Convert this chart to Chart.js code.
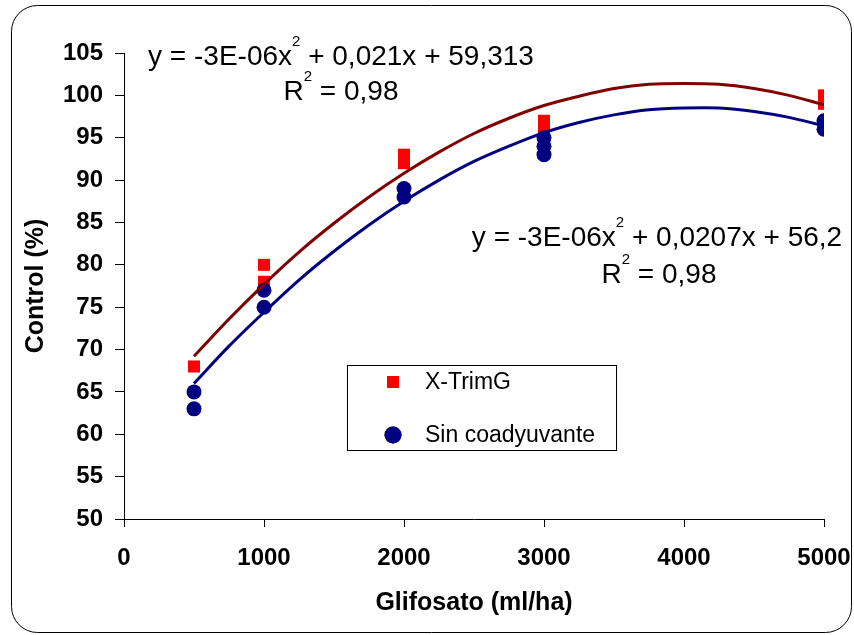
<!DOCTYPE html>
<html>
<head>
<meta charset="utf-8">
<title>Control vs Glifosato</title>
<script src="https://cdn.jsdelivr.net/npm/chart.js@4/dist/chart.umd.min.js"></script>
<style>
  html, body { margin: 0; padding: 0; background: #ffffff; overflow: hidden; }
  #wrap { width: 854px; height: 635px; position: relative; }
</style>
</head>
<body>
<div id="wrap"><canvas id="c" width="854" height="635"></canvas></div>
<script>
// Observed control (%) per glyphosate dose (ml/ha), replicates listed separately
const xtrimDose    = [500, 1000, 1000, 2000, 2000, 3000, 3000, 5000, 5000];
const xtrimControl = [68, 80, 78, 93, 92, 97, 96, 100, 99];

const sinDose      = [500, 500, 1000, 1000, 2000, 2000, 3000, 3000, 3000, 5000, 5000];
const sinControl   = [65, 63, 77, 75, 89, 88, 95, 94, 93, 97, 96];

// Polynomial trend lines (order 2), sampled along the dose axis
const trendDose  = [500, 750, 1000, 1250, 1500, 1750, 2000, 2250, 2500, 2750, 3000,
                    3250, 3500, 3750, 4000, 4250, 4500, 4750, 5000];
const xtrimTrend = [69.2, 73.6, 77.7, 81.5, 84.9, 88.0, 90.8, 93.3, 95.5, 97.3, 98.8,
                    99.9, 100.8, 101.3, 101.4, 101.3, 100.8, 100.0, 98.9];
const sinTrend   = [66.0, 70.4, 74.4, 78.2, 81.6, 84.7, 87.5, 90.0, 92.2, 94.0, 95.6,
                    96.8, 97.7, 98.3, 98.5, 98.5, 98.1, 97.4, 96.4];

// Axis settings
const xMin = 0, xMax = 5000, xStep = 1000;
const yMin = 50, yMax = 105, yStep = 5;

// Series names and trend-line equations
const seriesNames = ['X-TrimG', 'Sin coadyuvante'];
const xtrimEquation = [{ t: 'y = -3E-06x' }, { t: '2', sup: true }, { t: ' + 0,021x + 59,313' }];
const sinEquation   = [{ t: 'y = -3E-06x' }, { t: '2', sup: true }, { t: ' + 0,0207x + 56,2' }];
const rSquared      = [{ t: 'R' }, { t: '2', sup: true }, { t: ' = 0,98' }];

const FONT = "'Liberation Sans', Arial, Helvetica, sans-serif";
const RED = '#ff0000', DARKRED = '#800000', NAVY = '#000080';

function pairs(xs, ys) { return xs.map((x, i) => ({ x: x, y: ys[i] })); }

// White page with a rounded outer frame
const framePlugin = {
  id: 'frame',
  beforeDraw(chart) {
    const ctx = chart.ctx;
    ctx.save();
    ctx.fillStyle = '#ffffff';
    ctx.fillRect(0, 0, chart.width, chart.height);
    const x0 = 11.5, y0 = 5.5, x1 = 851.5, y1 = 632.5, r = 26;
    ctx.beginPath();
    ctx.moveTo(x0 + r, y0);
    ctx.lineTo(x1 - r, y0);
    ctx.arcTo(x1, y0, x1, y0 + r, r);
    ctx.lineTo(x1, y1 - r);
    ctx.arcTo(x1, y1, x1 - r, y1, r);
    ctx.lineTo(x0 + r, y1);
    ctx.arcTo(x0, y1, x0, y1 - r, r);
    ctx.lineTo(x0, y0 + r);
    ctx.arcTo(x0, y0, x0 + r, y0, r);
    ctx.closePath();
    ctx.strokeStyle = '#000000';
    ctx.lineWidth = 1;
    ctx.stroke();
    ctx.restore();
  }
};

// Text with superscripts, centred on cx
function drawRich(ctx, parts, cx, baseline, size, supSize, supRise) {
  ctx.save();
  ctx.fillStyle = '#000000';
  ctx.textBaseline = 'alphabetic';
  ctx.textAlign = 'left';
  let total = 0;
  const widths = parts.map(p => {
    ctx.font = (p.sup ? supSize : size) + 'px ' + FONT;
    const w = ctx.measureText(p.t).width;
    total += w;
    return w;
  });
  let x = cx - total / 2;
  parts.forEach((p, i) => {
    ctx.font = (p.sup ? supSize : size) + 'px ' + FONT;
    ctx.fillText(p.t, x, p.sup ? baseline - supRise : baseline);
    x += widths[i];
  });
  ctx.restore();
}

const equationPlugin = {
  id: 'equations',
  afterDraw(chart) {
    const ctx = chart.ctx;
    drawRich(ctx, xtrimEquation, 341, 65, 28, 15, 19);
    drawRich(ctx, rSquared, 341, 100, 28, 15, 19);
    drawRich(ctx, sinEquation, 657, 246, 28, 15, 19);
    drawRich(ctx, rSquared, 659, 283, 28, 15, 19);
  }
};

// Boxed legend inside the plot, styled from the marker datasets
const legendPlugin = {
  id: 'boxLegend',
  afterDraw(chart) {
    const ctx = chart.ctx;
    ctx.save();
    ctx.fillStyle = '#ffffff';
    ctx.fillRect(347.5, 365.5, 269, 85);
    ctx.strokeStyle = '#000000';
    ctx.lineWidth = 1;
    ctx.strokeRect(347.5, 365.5, 269, 85);
    const markerSets = chart.data.datasets.filter(d => d.showInBox);
    const rows = [382, 435];
    markerSets.forEach((ds, i) => {
      const y = rows[i];
      Chart.helpers.drawPoint(ctx, {
        pointStyle: ds.pointStyle,
        radius: ds.legendRadius,
        borderWidth: 0
      }, 393, y);
      ctx.fillStyle = ds.backgroundColor;
      ctx.fill();
      ctx.fillStyle = '#000000';
      ctx.font = '23px ' + FONT;
      ctx.textBaseline = 'middle';
      ctx.textAlign = 'left';
      ctx.fillText(ds.label, 425, y + 1);
    });
    ctx.restore();
  }
};

const tickFont = { family: FONT, size: 24, weight: 'bold' };
const titleFont = { family: FONT, size: 25, weight: 'bold' };

new Chart(document.getElementById('c').getContext('2d'), {
  type: 'scatter',
  data: {
    datasets: [
      {
        label: 'Tendencia ' + seriesNames[0],
        type: 'line',
        data: pairs(trendDose, xtrimTrend),
        borderColor: DARKRED,
        borderWidth: 3,
        pointRadius: 0,
        fill: false,
        tension: 0.3,
        order: 0
      },
      {
        label: 'Tendencia ' + seriesNames[1],
        type: 'line',
        data: pairs(trendDose, sinTrend),
        borderColor: NAVY,
        borderWidth: 3,
        pointRadius: 0,
        fill: false,
        tension: 0.3,
        order: 0
      },
      {
        label: seriesNames[0],
        data: pairs(xtrimDose, xtrimControl),
        pointStyle: 'rect',
        pointRadius: 8.5,
        legendRadius: 8.5,
        backgroundColor: RED,
        borderColor: RED,
        borderWidth: 0,
        showInBox: true,
        order: 2
      },
      {
        label: seriesNames[1],
        data: pairs(sinDose, sinControl),
        pointStyle: 'circle',
        pointRadius: 7.5,
        legendRadius: 8.5,
        backgroundColor: NAVY,
        borderColor: NAVY,
        borderWidth: 0,
        showInBox: true,
        order: 1
      }
    ]
  },
  options: {
    responsive: false,
    animation: false,
    devicePixelRatio: 1,
    events: [],
    layout: { padding: { left: 0, top: 53, right: 30, bottom: 0 } },
    plugins: { legend: { display: false }, tooltip: { enabled: false } },
    scales: {
      x: {
        type: 'linear',
        min: xMin, max: xMax,
        afterFit(scale) { scale.height = 116; scale.paddingLeft = 0; scale.paddingRight = 0; },
        ticks: { stepSize: xStep, color: '#000000', font: tickFont, padding: 17, maxRotation: 0,
                 callback: v => String(v) },
        grid: { drawOnChartArea: false, drawTicks: true, tickLength: 8, color: '#000000', lineWidth: 1 },
        border: { display: true, color: '#000000', width: 1 },
        title: { display: true, text: 'Glifosato (ml/ha)', color: '#000000', font: titleFont, padding: { top: 0, bottom: 17 } }
      },
      y: {
        type: 'linear',
        min: yMin, max: yMax,
        afterFit(scale) { scale.width = 124; scale.paddingTop = 0; scale.paddingBottom = 0; },
        ticks: { stepSize: yStep, color: '#000000', font: tickFont, padding: 12, callback: v => String(v) },
        grid: { drawOnChartArea: false, drawTicks: true, tickLength: 9, color: '#000000', lineWidth: 1 },
        border: { display: true, color: '#000000', width: 1 },
        title: { display: true, text: 'Control (%)', color: '#000000', font: titleFont, padding: { top: 21, bottom: 0 } }
      }
    }
  },
  plugins: [framePlugin, equationPlugin, legendPlugin]
});
</script>
</body>
</html>
